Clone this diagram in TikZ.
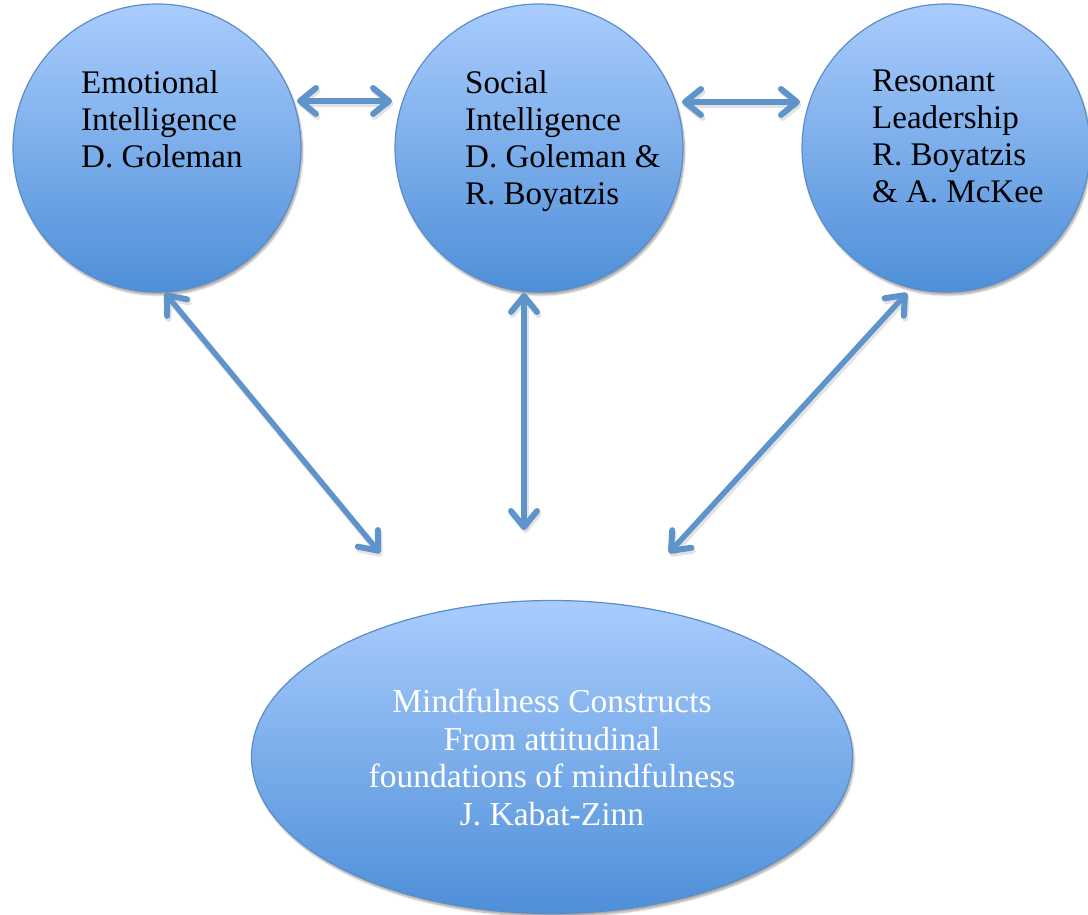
\documentclass[tikz,border=0pt]{standalone}
\usepackage{fontspec}
\setmainfont{Liberation Serif}
\usetikzlibrary{arrows.meta,shapes.geometric,shadows.blur}

\definecolor{bubbletop}{HTML}{A9CCFD}
\definecolor{bubblebottom}{HTML}{4E8FD8}
\definecolor{bubbleedge}{HTML}{5A8DC9}
\definecolor{linkblue}{HTML}{5F93CC}

\tikzset{
  bubble/.style={circle, inner sep=0pt, minimum size=288pt,
    draw=bubbleedge, line width=1.2pt,
    top color=bubbletop, bottom color=bubblebottom,
    blur shadow={shadow xshift=1.5pt, shadow yshift=-3pt, shadow blur steps=8, shadow opacity=35}},
  basebubble/.style={ellipse, inner sep=0pt, minimum width=601pt, minimum height=313pt,
    draw=bubbleedge, line width=1.2pt,
    top color=bubbletop, bottom color=bubblebottom,
    blur shadow={shadow xshift=1.5pt, shadow yshift=-3pt, shadow blur steps=8, shadow opacity=35}},
  label/.style={inner sep=0pt, align=left, anchor=north west,
    font=\fontsize{33}{37}\selectfont, text=black},
  baselabel/.style={inner sep=0pt, align=center, anchor=north,
    font=\fontsize{33.5}{37.5}\selectfont, text=white},
  barb/.tip={Straight Barb[length=16pt, width=26pt, line width=6pt, round]},
  link/.style={draw=linkblue, line width=5.5pt, line cap=round, barb-barb},
  linkshade/.style={draw=black!60, opacity=0.18, line width=6pt, line cap=round, barb-barb},
}

\begin{document}
\begin{tikzpicture}[x=1pt, y=-1pt]
  \path[use as bounding box] (0,0) rectangle (1088,915);

  % three theory bubbles
  \node[bubble] (emo) at (157,148) {};
  \node[bubble] (soc) at (539,148) {};
  \node[bubble] (res) at (946,148) {};

  % mindfulness base
  \node[basebubble] (mind) at (552,757) {};

  % bubble texts
  \node[label] (emotxt) at (81,70) {Emotional\\Intelligence\\D. Goleman};
  \node[label] (soctxt) at (465,70) {Social\\Intelligence\\D. Goleman \&\\R. Boyatzis};
  \node[label] (restxt) at (872,70) {Resonant\\Leadership\\R. Boyatzis\\\& A. McKee};
  \node[baselabel] (mindtxt) at (552,689) {Mindfulness Constructs\\From attitudinal\\foundations of mindfulness\\J. Kabat-Zinn};

  % link end points next to the bubbles and the free ends towards the base
  \coordinate (emoA) at (297,101);
  \coordinate (socA) at (392,101);
  \coordinate (socB) at (682,102);
  \coordinate (resB) at (800,102);
  \coordinate (emoLow) at (165,293);
  \coordinate (socLow) at (524,293);
  \coordinate (resLow) at (907,293);
  \coordinate (toL) at (380,553);
  \coordinate (toM) at (524,530);
  \coordinate (toR) at (669,553);

  % soft shadows under the links
  \begin{scope}[transform canvas={xshift=1.5pt, yshift=-3pt}]
    \draw[linkshade] (emoA) -- (socA);
    \draw[linkshade] (socB) -- (resB);
    \draw[linkshade] (emoLow) -- (toL);
    \draw[linkshade] (socLow) -- (toM);
    \draw[linkshade] (resLow) -- (toR);
  \end{scope}

  % links
  \draw[link] (emoA) -- (socA);
  \draw[link] (socB) -- (resB);
  \draw[link] (emoLow) -- (toL);
  \draw[link] (socLow) -- (toM);
  \draw[link] (resLow) -- (toR);
\end{tikzpicture}
\end{document}
